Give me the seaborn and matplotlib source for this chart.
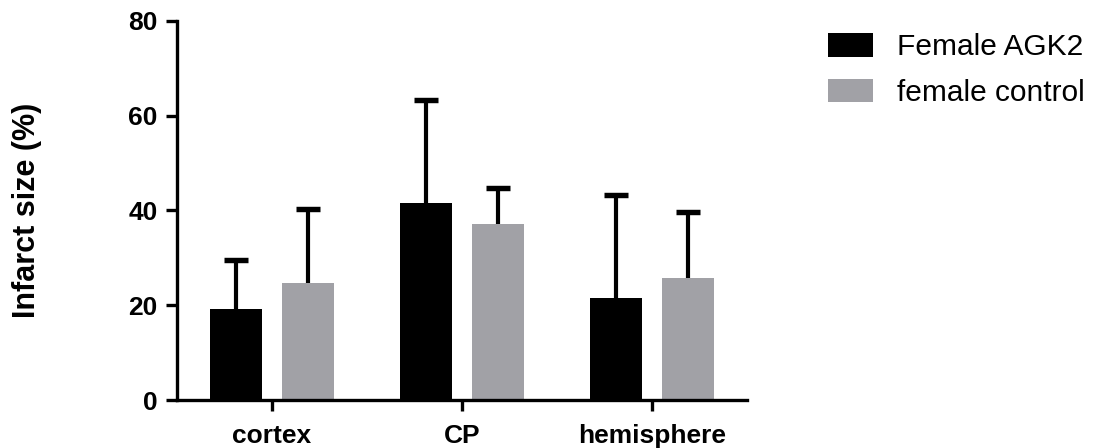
import matplotlib
matplotlib.use("Agg")
import matplotlib.pyplot as plt
import seaborn as sns
import pandas as pd
import numpy as np
from matplotlib.patches import Patch

categories = ["cortex", "CP", "hemisphere"]
groups = ["Female AGK2", "female control"]
agk2_mean = [19.2, 41.5, 21.6]
agk2_sd = [10.3, 21.8, 21.6]
control_mean = [24.8, 37.2, 25.8]
control_sd = [15.6, 7.5, 13.8]
yticks = [0, 20, 40, 60, 80]
colors = ["#000000", "#a1a1a6"]

sns.set_theme(style="ticks")
plt.rcParams["font.family"] = ["Liberation Sans", "DejaVu Sans"]
plt.rcParams["text.color"] = "black"
plt.rcParams["axes.labelcolor"] = "black"

df = pd.DataFrame({
    "region": categories * 2,
    "group": [groups[0]] * 3 + [groups[1]] * 3,
    "value": agk2_mean + control_mean,
    "sd": agk2_sd + control_sd,
})

fig = plt.figure(figsize=(10.93, 4.48), dpi=100)
ax = fig.add_axes([177 / 1093, 48 / 448, 570 / 1093, 379 / 448])

sns.barplot(data=df, x="region", y="value", hue="group", palette=colors,
            width=0.75, gap=0.27, errorbar=None, ax=ax, legend=False,
            linewidth=0, saturation=1)

# error bars (upper only), placed at bar centres
lw = 3.0
for bars, sds in zip(ax.containers, [agk2_sd, control_sd]):
    for bar, sd in zip(bars, sds):
        xc = bar.get_x() + bar.get_width() / 2
        h = bar.get_height()
        eb = ax.errorbar([xc], [h], yerr=[[0], [sd]], fmt="none", ecolor="black",
                         elinewidth=lw, capsize=8.5, capthick=lw * 1.3, zorder=1)
        eb[1][0].set_visible(False)  # hide lower cap

ax.set_xlim(-0.5, 2.5)
ax.set_ylim(0, 80)
ax.set_yticks(yticks)
ax.set_xlabel("")
ax.set_ylabel("Infarct size (%)", fontsize=22, fontweight="bold", labelpad=0,
              color="black")
ax.yaxis.set_label_coords(-0.237, 0.5)

sns.despine(ax=ax)
for s in ["left", "bottom"]:
    ax.spines[s].set_linewidth(2.4)
    ax.spines[s].set_color("black")
ax.tick_params(axis="both", width=2.4, length=8, color="black",
               labelsize=19, labelcolor="black")
ax.tick_params(axis="y", pad=6)
ax.tick_params(axis="x", pad=9)
for lab in ax.get_xticklabels() + ax.get_yticklabels():
    lab.set_fontweight("bold")

handles = [Patch(facecolor=c, edgecolor="none", label=g) for c, g in zip(colors, groups)]
leg = fig.legend(handles=handles, loc="upper left", bbox_to_anchor=(828 / 1093, 1 - 33 / 448),
                 frameon=False, fontsize=21.5, handlelength=1.5, handleheight=0.85,
                 handletextpad=0.8, labelspacing=0.58, borderpad=0, borderaxespad=0,
                 labelcolor="black")

fig.savefig("out.png", dpi=100)
